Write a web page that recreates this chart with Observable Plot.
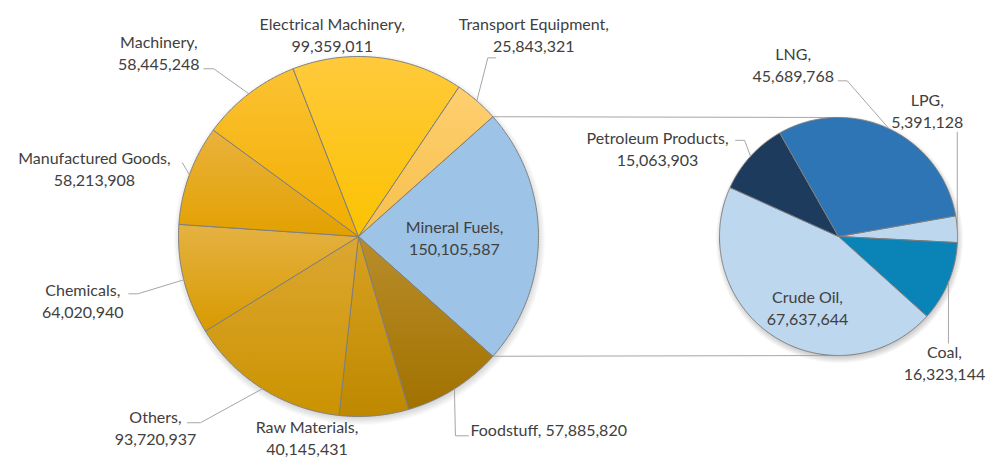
<!DOCTYPE html>
<html><head><meta charset="utf-8">
<script src="https://cdn.jsdelivr.net/npm/d3@7"></script>
<script src="https://cdn.jsdelivr.net/npm/@observablehq/plot@0.6"></script>
<style>html,body{margin:0;padding:0;background:#fff}</style>
</head><body><div id="chart"></div>
<script>
// ---- data ----
const mainCategories = ["Mineral Fuels","Foodstuff","Raw Materials","Others","Chemicals","Manufactured Goods","Machinery","Electrical Machinery","Transport Equipment"];
const mainValues = [150105587,57885820,40145431,93720937,64020940,58213908,58445248,99359011,25843321];
const subCategories = ["LPG","Coal","Crude Oil","Petroleum Products","LNG"];
const subValues = [5391128,16323144,67637644,15063903,45689768];

// ---- layout / style ----
const W = 987, H = 459;
const mainPie = {cx: 358, cy: 236, r: 180};
const subPie = {cx: 838, cy: 236, r: 119};
const subStartAngle = 80;
const mainColors = [
  ["#9DC3E6","#9DC3E6"],["#B88D2A","#A27200"],["#D8A222","#BE8900"],["#DCA732","#CB9300"],
  ["#E5B243","#D89A00"],["#EAB23E","#E2A100"],["#FBC232","#F1AD00"],["#FFCA3C","#FBC200"],["#FFCF70","#F6C04C"]
];
const subColors = ["#BDD7EE","#0A83B6","#BDD7EE","#1C3B5D","#2E75B6"];
// label placement: offset from slice edge point at mid-angle (or from centre when inside)
const mainLabelLayout = {
  "Mineral Fuels": {inside: true, off: [96, 0]},
  "Foodstuff": {off: [16, 42], single: true, leader: [[1,47],[14,47]]},
  "Raw Materials": {off: [-67, 21]},
  "Others": {off: [-107, 38], leader: [[-62,34],[-75,34]]},
  "Chemicals": {off: [-101, 20], leader: [[-46,14],[-55,14]]},
  "Manufactured Goods": {off: [-95, -7], leader: [[-7,-12]]},
  "Machinery": {off: [-90, -42], leader: [[-35,-25],[-45,-25]]},
  "Electrical Machinery": {off: [-46, -24]},
  "Transport Equipment": {off: [57, -67], leader: [[11,-43],[19,-43]]}
};
const subLabelLayout = {
  "LPG": {off: [-30, -119], leader: [[0,-97]]},
  "Coal": {off: [-4, 80], leader: [[0,61]]},
  "Crude Oil": {inside: true, off: [-31, 70]},
  "Petroleum Products": {off: [-93, -8], leader: [[-6,-16],[-15,-16]]},
  "LNG": {off: [-96, -65], leader: [[-42,-48],[-51,-48]]}
};

const fmt = d3.format(",");
const rad = a => a * Math.PI / 180;
function slicesOf(cats, vals, start) {
  const total = d3.sum(vals);
  let a = start;
  return cats.map((c, i) => {
    const a0 = a, a1 = a + vals[i] / total * 360; a = a1;
    return {name: c, value: vals[i], a0, a1, mid: (a0 + a1) / 2, i};
  });
}
function pt(pie, a, r = pie.r) { return [pie.cx + r * Math.sin(rad(a)), pie.cy - r * Math.cos(rad(a))]; }
function polygon(s, pie) {
  const pts = [[pie.cx, pie.cy]];
  const n = Math.max(2, Math.ceil((s.a1 - s.a0) / 0.5));
  for (let k = 0; k <= n; k++) pts.push(pt(pie, s.a0 + (s.a1 - s.a0) * k / n));
  pts.push([pie.cx, pie.cy]);
  return pts.map(([x, y]) => ({name: s.name, x, y}));
}

const mainStart = 90 - mainValues[0] / d3.sum(mainValues) * 180;
const mainSlices = slicesOf(mainCategories, mainValues, mainStart);
const subSlices = slicesOf(subCategories, subValues, subStartAngle);

// connectors between split slice and second pie
const mf = mainSlices[0];
const connectors = [
  {id: "top", x: pt(mainPie, mf.a0)[0], y: pt(mainPie, mf.a0)[1]},
  {id: "top", x: subPie.cx, y: subPie.cy - subPie.r},
  {id: "bot", x: pt(mainPie, mf.a1)[0], y: pt(mainPie, mf.a1)[1]},
  {id: "bot", x: subPie.cx, y: subPie.cy + subPie.r}
];

function labelsFor(slices, pie, layout) {
  const labels = [], leaders = [];
  for (const s of slices) {
    const L = layout[s.name];
    const base = L.inside ? [pie.cx, pie.cy] : pt(pie, s.mid);
    labels.push({x: base[0] + L.off[0], y: base[1] + L.off[1],
      text: L.single ? `${s.name}, ${fmt(s.value)}` : `${s.name},\n${fmt(s.value)}`, single: !!L.single});
    if (L.leader) {
      leaders.push({id: s.name, x: base[0], y: base[1]});
      for (const [dx, dy] of L.leader) leaders.push({id: s.name, x: base[0] + dx, y: base[1] + dy});
    }
  }
  return {labels, leaders};
}
const mainL = labelsFor(mainSlices, mainPie, mainLabelLayout);
const subL = labelsFor(subSlices, subPie, subLabelLayout);
const labels = mainL.labels.concat(subL.labels);
const leaders = mainL.leaders.concat(subL.leaders);

const marks = [
  Plot.dot([mainPie], {x: "cx", y: "cy", r: mainPie.r + 6, dx: 1, dy: 3, fill: "url(#shadow)", stroke: "none"}),
  Plot.dot([subPie], {x: "cx", y: "cy", r: subPie.r + 5, dx: 1, dy: 3, fill: "url(#shadow)", stroke: "none"}),
  Plot.line(connectors, {x: "x", y: "y", z: "id", stroke: "#A6A6A6", strokeWidth: 1}),
  ...mainSlices.map(s => Plot.line(polygon(s, mainPie), {x: "x", y: "y", fill: `url(#gm${s.i})`, stroke: "#7F7F7F", strokeWidth: 1, strokeLinejoin: "round"})),
  ...subSlices.map(s => Plot.line(polygon(s, subPie), {x: "x", y: "y", fill: subColors[s.i], stroke: "#7F7F7F", strokeWidth: 1, strokeLinejoin: "round"})),
  Plot.line(leaders, {x: "x", y: "y", z: "id", stroke: "#A6A6A6", strokeWidth: 1}),
  Plot.text(labels.filter(d => !d.single), {x: "x", y: "y", text: "text", textAnchor: "middle", lineHeight: 1.38, fontSize: 16, fill: "#404040"}),
  Plot.text(labels.filter(d => d.single), {x: "x", y: "y", text: "text", textAnchor: "start", fontSize: 16, fill: "#404040"})
];

const chart = Plot.plot({
  width: W, height: H, margin: 0,
  x: {type: "identity", axis: null},
  y: {type: "identity", axis: null},
  style: {fontFamily: "Lato, 'Open Sans', sans-serif", background: "#fff", color: "#404040"},
  marks
});
const svg = chart.tagName.toLowerCase() === "svg" ? chart : chart.querySelector("svg");
const defs = d3.select(svg).insert("defs", ":first-child");
mainColors.forEach(([c0, c1], i) => {
  const g = defs.append("linearGradient").attr("id", `gm${i}`).attr("x1", 0).attr("y1", 0).attr("x2", 0).attr("y2", 1);
  g.append("stop").attr("offset", 0).attr("stop-color", c0);
  g.append("stop").attr("offset", 1).attr("stop-color", c1);
});
const sh = defs.append("radialGradient").attr("id", "shadow");
sh.append("stop").attr("offset", 0).attr("stop-color", "#000").attr("stop-opacity", 0.3);
sh.append("stop").attr("offset", 0.93).attr("stop-color", "#000").attr("stop-opacity", 0.25);
sh.append("stop").attr("offset", 1).attr("stop-color", "#000").attr("stop-opacity", 0);
document.getElementById("chart").appendChild(chart);
</script>
</body></html>
